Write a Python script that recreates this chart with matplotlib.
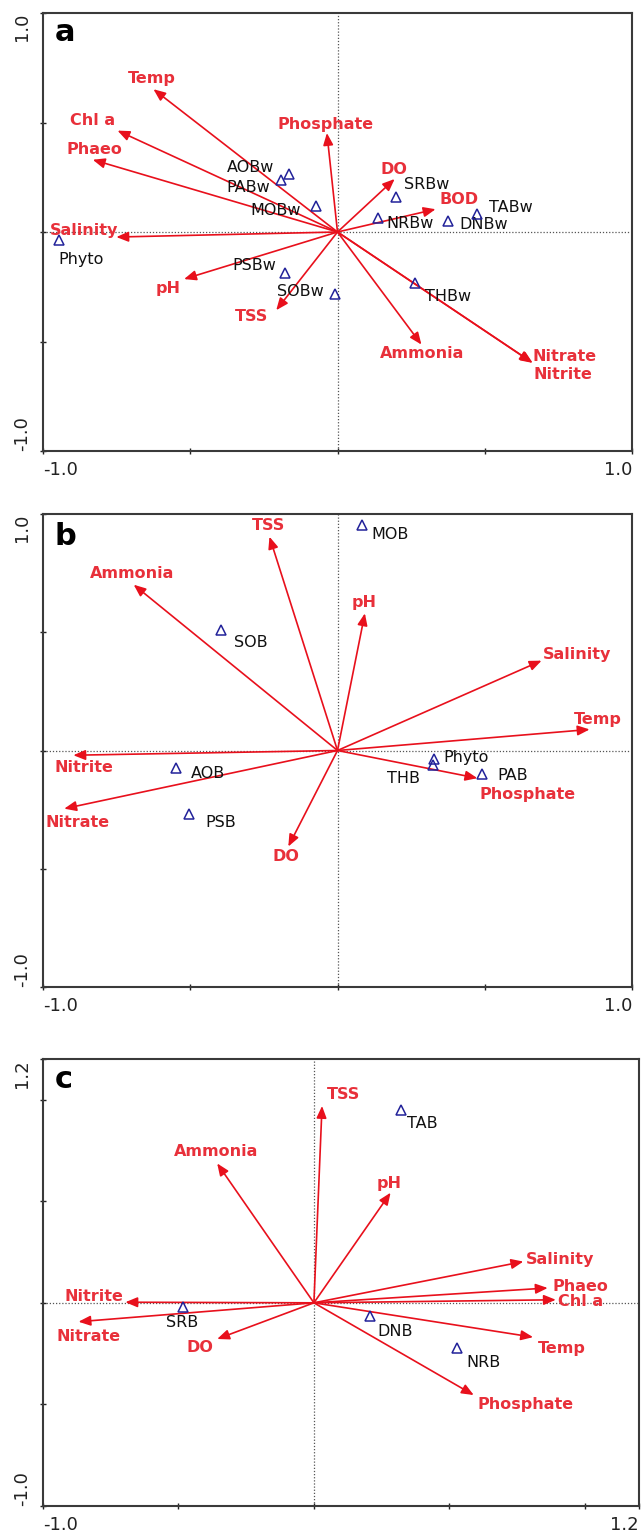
import matplotlib
matplotlib.use('Agg')
import matplotlib.pyplot as plt

# ---------------- data ----------------
# Panel a
a_env_names = ['Temp', 'Chl a', 'Phaeo', 'Salinity', 'pH', 'TSS', 'Phosphate', 'DO', 'BOD',
               'Ammonia', 'Nitrate', 'Nitrite']
a_env_x = [-0.625, -0.747, -0.831, -0.751, -0.521, -0.208, -0.036, 0.194, 0.333, 0.285, 0.663, 0.660]
a_env_y = [0.652, 0.463, 0.330, -0.023, -0.215, -0.357, 0.452, 0.242, 0.104, -0.514, -0.598, -0.595]
a_sp_names = ['AOBw', 'PABw', 'MOBw', 'Phyto', 'PSBw', 'SOBw', 'SRBw', 'NRBw', 'DNBw', 'TABw', 'THBw']
a_sp_x = [-0.165, -0.193, -0.074, -0.947, -0.178, -0.008, 0.197, 0.138, 0.374, 0.472, 0.264]
a_sp_y = [0.267, 0.236, 0.120, -0.038, -0.189, -0.285, 0.158, 0.063, 0.051, 0.084, -0.235]

# Panel b
b_env_names = ['TSS', 'Ammonia', 'pH', 'Salinity', 'Temp', 'Phosphate', 'DO', 'Nitrite', 'Nitrate']
b_env_x = [-0.231, -0.692, 0.093, 0.693, 0.856, 0.475, -0.167, -0.897, -0.928]
b_env_y = [0.904, 0.701, 0.580, 0.380, 0.089, -0.117, -0.406, -0.020, -0.246]
b_sp_names = ['MOB', 'SOB', 'Phyto', 'THB', 'PAB', 'AOB', 'PSB']
b_sp_x = [0.083, -0.396, 0.329, 0.325, 0.492, -0.549, -0.504]
b_sp_y = [0.954, 0.510, -0.035, -0.061, -0.099, -0.072, -0.268]

# Panel c
c_env_names = ['TSS', 'Ammonia', 'pH', 'Salinity', 'Phaeo', 'Chl a', 'Temp', 'Phosphate', 'DO',
               'Nitrite', 'Nitrate']
c_env_x = [0.030, -0.357, 0.283, 0.773, 0.863, 0.893, 0.809, 0.590, -0.357, -0.696, -0.869]
c_env_y = [0.969, 0.686, 0.542, 0.203, 0.073, 0.015, -0.169, -0.454, -0.178, 0.003, -0.093]
c_sp_names = ['TAB', 'SRB', 'DNB', 'NRB']
c_sp_x = [0.322, -0.482, 0.206, 0.527]
c_sp_y = [0.949, -0.020, -0.064, -0.224]

# ---------------- layout (label placement, data units) ----------------
a_env_lab = [(-0.629, 0.699), (-0.833, 0.511), (-0.824, 0.376), (-0.862, 0.008), (-0.574, -0.256),
             (-0.293, -0.388), (-0.039, 0.492), (0.192, 0.287), (0.413, 0.149), (0.288, -0.555),
             (0.771, -0.569), (0.764, -0.649)]
a_sp_lab = [(-0.296, 0.294), (-0.304, 0.201), (-0.210, 0.100), (-0.872, -0.124), (-0.282, -0.153),
            (-0.126, -0.271), (0.304, 0.215), (0.246, 0.038), (0.497, 0.036), (0.589, 0.110),
            (0.375, -0.296)]
b_env_lab = [(-0.235, 0.951), (-0.696, 0.749), (0.089, 0.627), (0.814, 0.407), (0.885, 0.132),
             (0.644, -0.186), (-0.175, -0.448), (-0.860, -0.070), (-0.881, -0.303)]
b_sp_lab = [(0.179, 0.915), (-0.293, 0.455), (0.436, -0.031), (0.224, -0.117), (0.596, -0.107),
            (-0.439, -0.099), (-0.397, -0.303)]
c_env_lab = [(0.108, 1.025), (-0.361, 0.746), (0.279, 0.588), (0.907, 0.215), (0.982, 0.081),
             (0.986, 0.008), (0.914, -0.224), (0.783, -0.500), (-0.422, -0.220), (-0.813, 0.032),
             (-0.831, -0.166)]
c_sp_lab = [(0.399, 0.885), (-0.485, -0.097), (0.301, -0.139), (0.625, -0.292)]

RED = '#e8101c'
RED_TXT = '#e8303a'
NAVY = '#22229a'

W, H = 641, 1532
fig = plt.figure(figsize=(W / 100, H / 100), dpi=100)


def make_axes(left, top, right, bottom):
    return fig.add_axes([left / W, 1 - bottom / H, (right - left) / W, (bottom - top) / H])


def draw_panel(ax, letter, lim, ticks, env_names, env_x, env_y, env_lab,
               sp_names, sp_x, sp_y, sp_lab):
    lo, hi = lim
    ax.set_xlim(lo, hi)
    ax.set_ylim(lo, hi)
    ax.axhline(0, color='#555555', lw=0.9, ls=(0, (1, 1.5)), zorder=1)
    ax.axvline(0, color='#555555', lw=0.9, ls=(0, (1, 1.5)), zorder=1)
    for name, x, y, (lx, ly) in zip(env_names, env_x, env_y, env_lab):
        ax.annotate('', xy=(x, y), xytext=(0, 0),
                    arrowprops=dict(arrowstyle='-|>,head_length=0.6,head_width=0.25',
                                    color=RED, lw=1.2, shrinkA=0, shrinkB=0,
                                    mutation_scale=12), zorder=3)
        ax.text(lx, ly, name, color=RED_TXT, fontsize=11.5, fontweight='bold',
                ha='center', va='center', zorder=4)
    ax.plot(sp_x, sp_y, ls='none', marker='^', markersize=7, markerfacecolor='none',
            markeredgecolor=NAVY, markeredgewidth=1.1, zorder=5)
    for name, (lx, ly) in zip(sp_names, sp_lab):
        ax.text(lx, ly, name, color='#111111', fontsize=11.5, ha='center', va='center', zorder=4)

    ax.set_xticks(ticks)
    ax.set_yticks(ticks)
    lab = ['' for _ in ticks]
    lab[0] = f'{lo:.1f}'
    lab[-1] = f'{hi:.1f}'
    ax.set_xticklabels(lab)
    ax.set_yticklabels(lab, rotation=90)
    xl = ax.get_xticklabels()
    xl[0].set_ha('left')
    xl[-1].set_ha('right')
    yl = ax.get_yticklabels()
    yl[0].set_va('bottom')
    yl[-1].set_va('top')
    ax.tick_params(axis='both', direction='inout', length=5, width=1.0, labelsize=13,
                   colors='#222222')
    ax.tick_params(axis='x', pad=5)
    ax.tick_params(axis='y', pad=6)
    for s in ax.spines.values():
        s.set_color('#3a3a3a')
        s.set_linewidth(1.5)
    ax.text(0.02, 0.935, letter, transform=ax.transAxes, fontsize=22, fontweight='bold',
            ha='left', va='baseline', color='black', zorder=6)


ax_a = make_axes(43, 13, 632, 451)
ax_b = make_axes(43, 514, 632, 987)
ax_c = make_axes(43, 1059, 639, 1506)

ticks_ab = [-1.0, -0.5, 0.0, 0.5, 1.0]
ticks_c = [-1.0, -0.5, 0.0, 0.5, 1.0, 1.2]

draw_panel(ax_a, 'a', (-1.0, 1.0), ticks_ab, a_env_names, a_env_x, a_env_y, a_env_lab,
           a_sp_names, a_sp_x, a_sp_y, a_sp_lab)
draw_panel(ax_b, 'b', (-1.0, 1.0), ticks_ab, b_env_names, b_env_x, b_env_y, b_env_lab,
           b_sp_names, b_sp_x, b_sp_y, b_sp_lab)
draw_panel(ax_c, 'c', (-1.0, 1.2), ticks_c, c_env_names, c_env_x, c_env_y, c_env_lab,
           c_sp_names, c_sp_x, c_sp_y, c_sp_lab)

fig.savefig('out.png', dpi=100)
